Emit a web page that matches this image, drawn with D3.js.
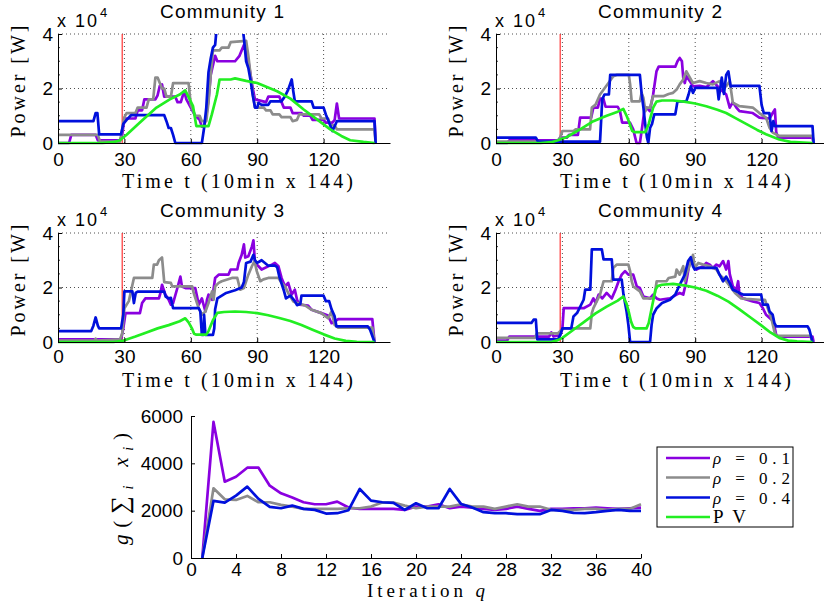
<!DOCTYPE html>
<html><head><meta charset="utf-8">
<script src="https://cdn.jsdelivr.net/npm/d3@7"></script>
<style>body{margin:0;background:#fff}svg{display:block}</style>
</head><body>
<svg id="chart" width="824" height="616"></svg>
<script>
// ---------- tick labels ----------
const tTicks = [0, 30, 60, 90, 120];
const powerTicks = [0, 2, 4];            // x 10^4 W
const qTicks = [0, 4, 8, 12, 16, 20, 24, 28, 32, 36, 40];
const gTicks = [0, 2000, 4000, 6000];
const seriesNames = ["ρ = 0.1", "ρ = 0.2", "ρ = 0.4", "PV"];
const communityTitles = ["Community 1", "Community 2", "Community 3", "Community 4"];
const startTime = 29;                    // red marker

// ---------- community power profiles [t, power x10^4 W] ----------
const c1_rho01 = [[0,0],[5,0],[6,0.3],[17,0.3],[18,0.1],[28,0.1],[29,0.3],[30,0.9],[35,0.9],[36,1.2],[38,1.2],[39,1.6],[44,1.6],[45,1.75],[46,2.1],[47,2.15],[48,1.7],[53,1.7],[54,1.5],[55.5,1.5],[57,1.9],[58,1.6],[60,1.3],[62,1.0],[64,0.85],[65,0.6],[66,0.6],[67,1.0],[68,1.6],[69,2.5],[71,3.2],[72,3.0],[80,3.0],[82,3.2],[84,3.6],[86,3.0],[88,2.0],[89,1.6],[94,1.5],[95,1.7],[100,1.7],[101,1.5],[102,1.3],[105,1.3],[106,1.1],[110,1.1],[111,1.0],[114,1.0],[115,0.85],[120,0.85],[121,0.75],[124,0.75],[125,0.85],[126,1.45],[127,0.9],[143,0.9],[143.5,0]];
const c1_rho02 = [[0,0.3],[18,0.3],[19,0.05],[28,0.05],[29,0.5],[30,0.95],[31,1.1],[35,1.1],[36,1.3],[40,1.3],[41,1.6],[43,1.6],[44,2.4],[45,2.4],[46,2.2],[47,2.0],[48,2.0],[49,1.7],[51,1.7],[52,2.2],[59,2.2],[60,1.4],[61,1.2],[62,1.0],[64,1.0],[65,0.8],[67,0.8],[68,1.5],[69,2.5],[70,3.4],[73,3.4],[74,3.5],[77,3.5],[78,3.7],[85,3.75],[86,3.2],[87,2.5],[88,1.8],[89,1.3],[93,1.3],[94,1.2],[96,1.2],[97,1.05],[100,1.05],[101,0.95],[105,0.95],[106,0.8],[108,0.85],[109,1.05],[118,1.05],[119,0.9],[122,0.9],[123,0.65],[125,0.65],[126,0.5],[143,0.5],[143.5,0]];
const c1_rho04 = [[0,0.8],[16,0.8],[17,1.1],[17.8,1.1],[18.6,0.32],[28.5,0.32],[29.5,0.7],[31,0.85],[33,1.02],[48,1.02],[49,0.8],[50,0.55],[51,0.55],[52,0.3],[53,0],[65,0],[66,0.55],[67,1.3],[68,2.6],[69,3.1],[70,3.5],[71,3.6],[72,4.5],[83,4.5],[84,3.85],[85,3.0],[86,2.75],[87,2.3],[88,1.75],[89,1.3],[90,1.3],[90.6,1.47],[92,1.4],[95,1.4],[96,1.53],[101,1.53],[102.6,1.72],[104,1.96],[105.6,2.33],[106.3,1.9],[107,1.53],[114.6,1.53],[115.5,1.3],[120,1.3],[121,1.05],[122.5,0.75],[124,0.44],[126,0.8],[143,0.8],[143.5,0]];
const c1_pv = [[0,0],[20,0],[25,0.03],[28,0.1],[31,0.3],[37,0.75],[44.5,1.3],[50.5,1.6],[55,1.78],[57.5,1.93],[59.5,1.6],[61,1.35],[62.5,0.62],[68,0.62],[69.5,1.05],[71.8,1.78],[73,2.33],[78,2.33],[80,2.37],[85,2.28],[90,2.2],[99,1.9],[105,1.63],[111,1.23],[117,0.87],[123,0.5],[128,0.26],[132,0.1],[138,0.04],[143,0]];

const c2_rho01 = [[0,0],[5,0],[6,0.1],[28,0.1],[29,0.2],[32,0.2],[33,0.3],[37,0.3],[38,0.93],[43,0.93],[44,1.3],[46,1.3],[47,1.63],[48.5,1.63],[49.5,1.33],[55,1.33],[56,1.17],[57,0.75],[60.5,0.75],[62,0.5],[63.5,0],[65,0],[66,0.56],[67,1.17],[68,1.3],[69.5,1.17],[71,1.78],[72.5,2.63],[73.5,2.8],[81,2.8],[82,3.0],[83,3.12],[84,3.0],[84.6,2.4],[85.3,2.2],[86,2.45],[87.6,2.27],[89,2.08],[92,2.1],[95,2.05],[98,2.27],[101,2.0],[104,1.78],[105.6,1.3],[107,1.5],[108.6,1.3],[110,1.17],[116,1.1],[119,0.93],[123.6,0.9],[125,1.1],[126,1.23],[126.6,0.4],[127.5,0.2],[143,0.2],[143.5,0]];
const c2_rho02 = [[0,0.05],[28,0.05],[29,0.2],[30,0.44],[35,0.44],[36,0.5],[42.5,0.5],[43.3,1.3],[45,1.41],[47,1.78],[50.8,2.2],[53,2.45],[54.6,2.5],[60,2.5],[60.6,2.15],[61.3,1.53],[65,1.53],[65.8,1.84],[66.6,1.65],[67.5,1.17],[68,1.3],[69.6,1.3],[71,1.72],[75.6,1.72],[78,1.8],[80,1.84],[81.6,1.96],[83,2.15],[84.6,2.33],[86,2.63],[87.6,2.4],[89,2.2],[92,2.27],[95,2.2],[98,2.15],[101,2.27],[102.6,2.04],[104,2.08],[105.6,2.27],[107,1.48],[110,1.35],[116,1.3],[119,1.1],[122,0.93],[123.6,0.56],[125,0.38],[128,0.26],[143,0.26],[143.5,0]];
const c2_rho04 = [[0,0.2],[18,0.2],[19,0.05],[47,0.05],[48,1.6],[49,1.78],[51,1.78],[51.6,2.5],[65,2.5],[65.8,1.8],[66.6,1.3],[67.4,0.7],[68.2,0.2],[68.8,0],[69.6,0.55],[70.5,0.7],[71.5,1.05],[81,1.05],[82,1.53],[86,1.53],[87,1.78],[88,2.08],[89,1.84],[90,2.02],[100,2.02],[100.6,1.6],[102,2.4],[103,1.8],[104,2.5],[105,2.63],[106,2.08],[107,2.1],[119,2.1],[120,1.4],[121,1.1],[123.5,1.1],[124.5,0.44],[125.3,0.8],[126,0.62],[143,0.62],[143.5,0]];
const c2_pv = [[0,0],[20,0],[25,0.03],[28,0.1],[32,0.22],[38,0.5],[44,0.8],[50,1.0],[55,1.15],[57.5,1.25],[59,1.0],[60,0.8],[61.5,0.45],[62.5,0.4],[67.5,0.4],[69,0.7],[71,1.3],[72.5,1.52],[75,1.56],[80,1.56],[85,1.52],[90,1.45],[95,1.35],[100,1.22],[104,1.1],[108,0.92],[113,0.7],[118,0.48],[122,0.32],[128,0.13],[133,0.04],[143,0]];

const c3_rho01 = [[0,0.1],[28.5,0.1],[29.5,0.5],[30.5,1.06],[37,1.06],[38,1.43],[39.5,1.6],[45.6,1.6],[46.3,1.8],[47,2.1],[48.5,1.74],[50,1.55],[51,1.37],[52,1.43],[54,2.0],[55.3,2.4],[56,2.04],[57.6,1.98],[62,1.98],[63,1.6],[63.6,1.37],[65,1.6],[66.6,1.12],[67.3,1.55],[68,1.74],[69.6,1.55],[71,2.35],[72.6,2.47],[77,2.47],[78,2.66],[81,2.66],[81.6,2.9],[83,3.2],[84,3.58],[84.6,3.1],[86,3.15],[87.6,3.5],[88.3,3.73],[89,2.9],[90.6,2.78],[92,2.66],[96.6,2.84],[98,2.9],[99.6,2.78],[101,2.35],[102.6,2.04],[104,2.17],[105.6,1.74],[107,1.92],[108,1.55],[109,1.37],[113,1.34],[114.6,1.18],[119,1.06],[122,0.97],[123.6,0.69],[125,0.75],[126.6,0.84],[142,0.84],[143,0]];
const c3_rho02 = [[0,0.05],[16.5,0.05],[17,0.12],[17.5,0.05],[28,0.1],[29,0.3],[30,1.24],[32,1.5],[34.3,2.35],[42.6,2.35],[43.3,2.84],[44.8,2.84],[45.6,3.0],[47,3.1],[48,2.2],[51,2.17],[51.6,2.04],[60.6,2.04],[61.3,1.8],[62.5,1.5],[63.6,1.24],[65,1.0],[66.6,1.12],[68,1.43],[69.6,1.86],[70.3,1.55],[71,2.04],[72.6,2.17],[74,2.23],[78.6,2.35],[81,2.35],[82.3,1.92],[84,1.98],[86,2.47],[87.6,2.78],[88.8,2.97],[89.8,2.6],[91.4,2.23],[92.8,2.3],[95,2.35],[99.6,2.35],[101,2.17],[102.6,2.04],[104,1.8],[106.3,1.49],[108,1.43],[111.6,1.34],[114.6,1.18],[119,1.06],[122,0.87],[123.6,1.12],[125,0.63],[126.6,0.53],[142,0.53],[143,0]];
const c3_rho04 = [[0,0.4],[15,0.4],[16,0.6],[17,0.9],[18,0.6],[18.6,0.5],[28.5,0.5],[29.5,1.0],[30,1.86],[33.6,1.86],[34.3,1.43],[35.1,1.8],[36,1.85],[48,1.85],[48.6,1.67],[50,1.6],[51,1.62],[52,1.24],[63.6,1.24],[64.3,1.12],[65,0.26],[65.7,0.26],[66,1.0],[66.6,0.26],[70,0.26],[70.6,0.5],[71,1.2],[72,1.6],[74,1.7],[76,1.8],[80,1.9],[83,2.0],[84,2.2],[85,2.9],[87,2.95],[88.3,3.2],[89,3.0],[90,2.9],[92,3.0],[95,2.8],[98,2.8],[99,2.75],[100,2.4],[102,1.9],[103,1.6],[105,1.7],[107,1.5],[108,1.35],[109.5,1.4],[110,1.7],[120,1.7],[121,1.5],[122.5,1.5],[123.6,1.2],[125,0.94],[125.8,0.57],[140,0.57],[141,0.45],[143,0]];
const c3_pv = [[0,0],[25,0],[29,0.04],[35,0.2],[40,0.35],[45,0.5],[50,0.62],[55,0.76],[57.5,0.87],[59,0.72],[60.5,0.5],[61.5,0.3],[62.5,0.27],[67,0.27],[68,0.4],[70,0.8],[72,1.07],[75,1.1],[80,1.12],[85,1.1],[90,1.06],[95,0.98],[100,0.88],[105,0.77],[110,0.62],[115,0.45],[120,0.28],[125,0.13],[130,0.04],[135,0.01],[143,0]];

const c4_rho01 = [[0,0.05],[5,0.05],[6,0.2],[24,0.2],[25,0.35],[26,0.2],[29,0.25],[30,0.5],[30.6,1.24],[39.6,1.24],[42.6,1.37],[44,1.6],[45,1.43],[46.4,1.74],[48,1.6],[50,1.8],[52.3,1.6],[54,1.92],[55.4,2.23],[56.8,2.47],[58.3,2.6],[59.8,2.47],[62,2.47],[63.6,2.04],[65,1.98],[66.6,1.67],[69.6,1.6],[71,1.74],[72.6,1.6],[74,1.55],[78.6,1.6],[81.6,1.74],[83,1.8],[84.6,1.74],[86,2.23],[87.6,2.97],[89,2.84],[90.6,2.66],[92,2.72],[93.6,2.78],[95,2.9],[96.6,2.84],[98,2.72],[99.6,2.84],[101,2.78],[102.6,2.97],[104,2.66],[105,2.97],[105.6,2.5],[107,2.04],[108.6,1.92],[109.4,2.23],[110,1.74],[111.6,1.6],[116,1.49],[119,1.43],[120.6,1.24],[122,1.0],[124.4,0.83],[125,0.9],[126.6,0.26],[127.5,0.2],[143,0.2],[143.5,0]];
const c4_rho02 = [[0,0.15],[17.5,0.15],[18.5,0.32],[28,0.32],[29,0.4],[30.6,0.5],[42.6,0.5],[43.3,1.06],[44,1.24],[47,1.74],[48.6,2.23],[52.3,2.23],[53,2.72],[54.6,2.84],[59.8,2.84],[60.6,2.6],[61.3,2.23],[62,2.04],[65,1.86],[66.6,1.6],[71,1.6],[71.8,1.8],[72.6,2.23],[77,2.23],[78,2.35],[81,2.4],[81.6,2.66],[83,2.47],[84.6,2.78],[85.3,2.23],[86,2.47],[87.6,2.84],[89,3.2],[89.8,2.72],[91.4,2.9],[93.6,2.84],[96.6,2.78],[99.6,2.66],[101,2.47],[102.6,2.35],[104,2.23],[106.3,1.98],[108,1.8],[110.8,1.6],[113,1.58],[119,1.55],[121.5,1.55],[122.8,1.24],[124.4,0.87],[125.8,0.38],[126.6,0.23],[142,0.23],[143,0]];
const c4_rho04 = [[0,0.7],[16,0.7],[17,0.82],[18,0.82],[18.6,0.1],[28,0.1],[29,0.25],[30,0.5],[34,0.5],[35,0.94],[36.6,1.06],[39.6,1.55],[40.3,1.92],[42.6,1.92],[43.3,3.4],[47.8,3.4],[48.6,3.03],[52.3,3.03],[53,2.29],[56.8,2.29],[57.6,1.74],[59,1.12],[59.8,0.63],[60.6,0],[69.6,0],[70.3,0.63],[71,1.0],[72.6,1.24],[75,1.43],[78.6,1.55],[81,1.74],[83,2.1],[85.3,2.47],[86.8,2.97],[88,3.11],[89,2.78],[89.8,2.66],[91.4,2.72],[99.6,2.72],[101,2.47],[102.6,2.23],[104,2.4],[105.6,2.17],[107,1.92],[108.6,1.86],[110,1.8],[111.6,1.74],[119.8,1.74],[120.6,1.37],[122.8,1.37],[123.6,1.12],[125,1.0],[125.8,0.69],[126.6,0.57],[140.8,0.57],[141.6,0.45],[143,0]];
const c4_pv = [[0,0],[25,0],[28,0.07],[30,0.15],[35,0.45],[40,0.75],[45,1.05],[50,1.3],[55,1.52],[57.5,1.67],[59,1.4],[60,1.1],[61,0.75],[62,0.55],[63,0.5],[68,0.5],[69,0.7],[70.5,1.3],[72,1.9],[73,2.05],[75,2.1],[80,2.13],[85,2.08],[90,2.0],[95,1.88],[100,1.7],[105,1.48],[110,1.2],[115,0.9],[120,0.6],[124,0.35],[128,0.15],[132,0.05],[136,0.02],[143,0]];

// ---------- convergence g(sum x_i) per iteration q = 1..40 ----------
const iterations = d3.range(1, 41);
const g_rho01 = [0,5750,3225,3435,3815,3815,3056,2734,2552,2355,2271,2271,2383,2131,2075,2075,2075,2075,2033,2173,2173,2271,2103,2173,2131,2075,2033,2075,2173,2075,1991,2075,2075,2103,2103,2131,2103,2075,2103,2131];
const g_rho02 = [0,2944,2481,2453,2622,2355,2355,2243,2173,2075,2075,2075,2075,2103,2103,2173,2341,2341,2215,2103,2173,2173,2173,2271,2173,2173,2075,2173,2271,2173,2173,2033,2033,2033,2075,2075,2033,2075,2075,2271];
const g_rho04 = [0,2411,2341,2636,3014,2495,2159,2103,2215,2075,2033,1879,1893,2019,2916,2425,2355,2327,2033,2313,2103,2103,2916,2285,2131,1935,1893,1893,1851,1851,1851,2033,1991,1907,1893,1935,1991,2033,1991,1991];

// ---------- styling ----------
const colors = ["#8a00e0", "#8c8c8c", "#0010dc", "#22ee22"];
const SANS = "'Liberation Sans', Arial, Helvetica, sans-serif";
const SERIF = "'Liberation Serif', 'Times New Roman', serif";
const svg = d3.select("#chart");
const intFmt = d3.format("d");

const communities = [
  [c1_rho01, c1_rho02, c1_rho04, c1_pv],
  [c2_rho01, c2_rho02, c2_rho04, c2_pv],
  [c3_rho01, c3_rho02, c3_rho04, c3_pv],
  [c4_rho01, c4_rho02, c4_rho04, c4_pv]
];
const panelPos = [
  {left: 58, top: 34, pad: 9.5}, {left: 496, top: 34, pad: 9.5},
  {left: 58, top: 233, pad: 8}, {left: 496, top: 233, pad: 8}
];
const PW = 332, PH = 109;

communities.forEach((series, i) => {
  const p = panelPos[i];
  const x = d3.scaleLinear().domain([0, 150]).range([p.left, p.left + PW]);
  const y = d3.scaleLinear().domain([0, 4]).range([p.top + PH, p.top]);
  const g = svg.append("g");

  // dotted grid
  g.selectAll(".vg").data(tTicks.filter(t => t > 0)).enter().append("line")
    .attr("x1", d => x(d)).attr("x2", d => x(d))
    .attr("y1", y(0)).attr("y2", y(4))
    .attr("stroke", "#222").attr("stroke-width", 0.8).attr("stroke-dasharray", "1,3");
  g.selectAll(".hg").data(powerTicks.filter(v => v > 0)).enter().append("line")
    .attr("x1", x(0)).attr("x2", x(150))
    .attr("y1", d => y(d)).attr("y2", d => y(d))
    .attr("stroke", "#222").attr("stroke-width", 0.8).attr("stroke-dasharray", "1,3");

  // red start marker
  g.append("line").attr("x1", x(startTime)).attr("x2", x(startTime))
    .attr("y1", y(0)).attr("y2", y(4)).attr("stroke", "#ff2020").attr("stroke-width", 1.1);

  // clip
  const cid = "clip" + i;
  svg.append("clipPath").attr("id", cid).append("rect")
    .attr("x", x(0) - 3).attr("y", y(4)).attr("width", PW + 6).attr("height", PH + 6);

  const line = d3.line().x(d => x(d[0])).y(d => y(d[1]));
  const lg = g.append("g").attr("clip-path", `url(#${cid})`);
  series.forEach((s, k) => {
    lg.append("path").datum(s).attr("d", line).attr("fill", "none")
      .attr("stroke", colors[k]).attr("stroke-width", 2.7)
      .attr("stroke-linejoin", "round");
  });

  // axes
  const xa = g.append("g").attr("transform", `translate(0,${y(0)})`)
    .call(d3.axisBottom(x).tickValues(tTicks).tickFormat(intFmt)
      .tickSizeInner(-4).tickSizeOuter(0).tickPadding(p.pad));
  const ya = g.append("g").attr("transform", `translate(${x(0)},0)`)
    .call(d3.axisLeft(y).tickValues(powerTicks).tickFormat(intFmt)
      .tickSizeInner(-4).tickSizeOuter(0).tickPadding(5));
  [xa, ya].forEach(a => {
    a.attr("color", "#000");
    a.select(".domain").attr("stroke-width", 1);
    a.selectAll("text").attr("font-family", SANS).attr("font-size", 19);
  });
  // minor y ticks
  g.selectAll(".my").data([0.5, 1, 1.5, 2.5, 3, 3.5]).enter().append("line")
    .attr("x1", x(0)).attr("x2", x(0) + 2).attr("y1", d => y(d)).attr("y2", d => y(d))
    .attr("stroke", "#000").attr("stroke-width", 0.8);

  // title
  g.append("text").attr("x", x(0) + PW / 2 - 2).attr("y", p.top - 16)
    .attr("text-anchor", "middle").attr("font-family", SANS).attr("font-size", 19)
    .attr("textLength", 124).attr("lengthAdjust", "spacing")
    .text(communityTitles[i]);

  // x 10^4 multiplier
  const mt = g.append("text").attr("x", x(0) - 1).attr("y", p.top - 7)
    .attr("font-family", SANS).attr("font-size", 18);
  mt.append("tspan").attr("textLength", 40).attr("lengthAdjust", "spacing").text("x 10");
  mt.append("tspan").attr("dy", -10).attr("dx", 1).attr("font-size", 13).text("4");

  // y label
  g.append("text").attr("transform", `translate(${x(0) - 33},${y(2) - 7}) rotate(-90)`)
    .attr("text-anchor", "middle").attr("font-family", SERIF).attr("font-size", 20)
    .attr("textLength", 112).attr("lengthAdjust", "spacing")
    .text("Power [W]");

  // x label
  g.append("text").attr("x", x(0) + 64).attr("y", y(0) + 45)
    .attr("font-family", SERIF).attr("font-size", 20)
    .attr("textLength", 231).attr("lengthAdjust", "spacing")
    .text("Time t (10min x 144)");
});

// ---------- convergence plot ----------
{
  const x = d3.scaleLinear().domain([0, 40]).range([191, 641]);
  const y = d3.scaleLinear().domain([0, 6000]).range([558, 416]);
  const g = svg.append("g");
  const line = d3.line().x((d, j) => x(iterations[j])).y(d => y(d));
  [g_rho01, g_rho02, g_rho04].forEach((s, k) => {
    g.append("path").datum(s).attr("d", line).attr("fill", "none")
      .attr("stroke", colors[k]).attr("stroke-width", 2.7).attr("stroke-linejoin", "round");
  });
  const xa = g.append("g").attr("transform", `translate(0,${y(0)})`)
    .call(d3.axisBottom(x).tickValues(qTicks).tickFormat(intFmt)
      .tickSizeInner(-4).tickSizeOuter(0).tickPadding(5));
  const ya = g.append("g").attr("transform", `translate(${x(0)},0)`)
    .call(d3.axisLeft(y).tickValues(gTicks).tickFormat(intFmt)
      .tickSizeInner(-4).tickSizeOuter(0).tickPadding(8));
  [xa, ya].forEach(a => {
    a.attr("color", "#000");
    a.selectAll("text").attr("font-family", SANS).attr("font-size", 19);
  });

  const xl = g.append("text").attr("x", 367).attr("y", 597)
    .attr("font-family", SERIF).attr("font-size", 19)
    .attr("textLength", 118).attr("lengthAdjust", "spacing");
  xl.append("tspan").text("Iteration ");
  xl.append("tspan").attr("font-style", "italic").text("q");

  const yl = g.append("text").attr("transform", "translate(128,489) rotate(-90)")
    .attr("text-anchor", "middle").attr("font-family", SERIF).attr("font-size", 21)
    .attr("textLength", 112).attr("lengthAdjust", "spacing");
  yl.append("tspan").attr("font-style", "italic").text("g");
  yl.append("tspan").text("(");
  yl.append("tspan").attr("font-size", 25).text("∑");
  yl.append("tspan").attr("font-style", "italic").attr("font-size", 14).attr("dy", 5).text("i");
  yl.append("tspan").attr("font-style", "italic").attr("dy", -5).text(" x");
  yl.append("tspan").attr("font-style", "italic").attr("font-size", 14).attr("dy", 5).text("i");
  yl.append("tspan").attr("dy", -5).text(")");

  // legend
  const lgd = svg.append("g");
  lgd.append("rect").attr("x", 657).attr("y", 447).attr("width", 136).attr("height", 80)
    .attr("fill", "#fff").attr("stroke", "#000").attr("stroke-width", 1);
  const rowsY = [458, 477.5, 497.5, 517];
  seriesNames.forEach((name, k) => {
    lgd.append("line").attr("x1", 666).attr("x2", 710).attr("y1", rowsY[k]).attr("y2", rowsY[k])
      .attr("stroke", colors[k]).attr("stroke-width", 2.7);
    const t = lgd.append("text").attr("x", 713).attr("y", rowsY[k] + 6)
      .attr("font-family", SERIF).attr("font-size", k === 3 ? 19 : 17);
    if (name.startsWith("ρ")) {
      t.attr("textLength", 77).attr("lengthAdjust", "spacing");
      t.append("tspan").attr("font-style", "italic").text("ρ");
      t.append("tspan").text(name.slice(1));
    } else {
      t.attr("textLength", 33).attr("lengthAdjust", "spacing").text(name);
    }
  });
}
</script>
</body></html>
